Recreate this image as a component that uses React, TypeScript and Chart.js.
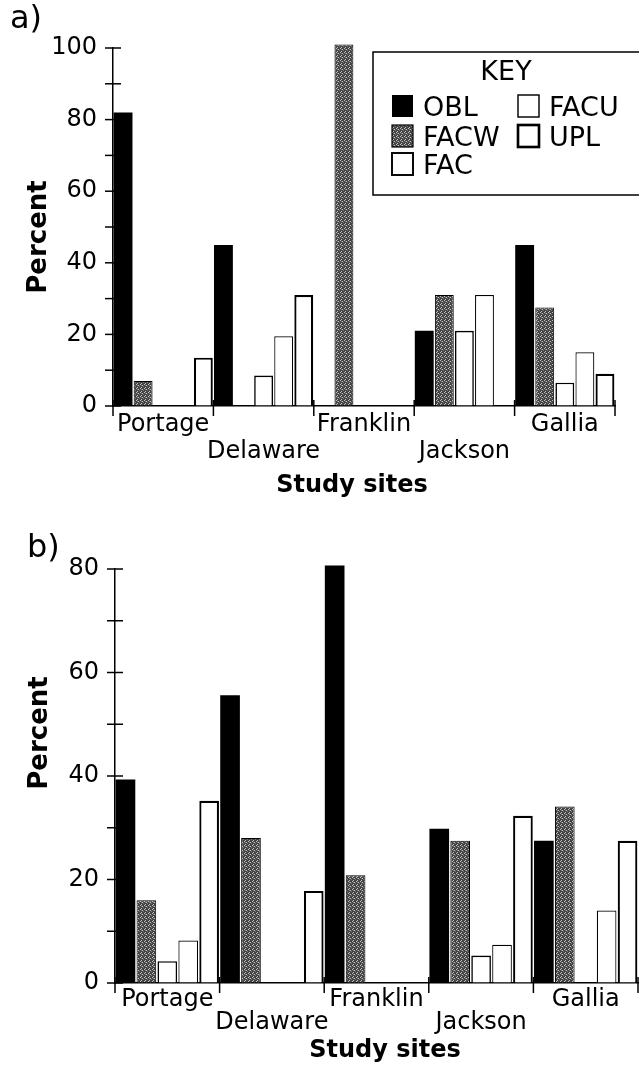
import React, { useEffect, useRef } from "react";
import { Chart, registerables } from "chart.js";

Chart.register(...registerables);

// ---------- data ----------
const sites = ["Portage", "Delaware", "Franklin", "Jackson", "Gallia"];
// staggered two-row labels (second-row names get an empty first line)
const siteRows = [0, 1, 0, 1, 0];
const classes = ["OBL", "FACW", "FAC", "FACU", "UPL"];

// panel a)
const aOBL = [82, 45, 0, 21, 45];
const aFACW = [7, 0, 101, 31, 27.5];
const aFAC = [0, 8.5, 0, 21, 6.5];
const aFACU = [0, 19.5, 0, 31, 15];
const aUPL = [13.5, 31, 0, 0, 9];
const aTickLabels = [0, 20, 40, 60, 80, 100];

// panel b)
const bOBL = [39.3, 55.6, 80.7, 29.8, 27.5];
const bFACW = [16, 28, 20.8, 27.5, 34.1];
const bFAC = [4.2, 0, 0, 5.3, 0];
const bFACU = [8.2, 0, 0, 7.4, 14];
const bUPL = [35.2, 17.8, 0, 32.3, 27.5];
const bTickLabels = [0, 20, 40, 60, 80];

const FONT = "DejaVu Sans";

function makePattern(): CanvasPattern | string {
  const c = document.createElement("canvas");
  c.width = 4;
  c.height = 4;
  const g = c.getContext("2d");
  if (!g) return "#555555";
  g.fillStyle = "#434343";
  g.fillRect(0, 0, 4, 4);
  g.fillStyle = "#c4c4c4";
  [
    [0, 0],
    [2, 1],
    [1, 3],
  ].forEach(([x, y]) => g.fillRect(x, y, 1, 1));
  g.fillStyle = "#7a7a7a";
  [
    [3, 2],
    [1, 1],
  ].forEach(([x, y]) => g.fillRect(x, y, 1, 1));
  return g.createPattern(c, "repeat") || "#555555";
}

const decorPlugin = {
  id: "decor",
  afterDraw(chart: any, _args: any, opts: any) {
    const ctx = chart.ctx as CanvasRenderingContext2D;
    const xs = chart.scales.x;
    const ys = chart.scales.y;
    ctx.save();
    ctx.strokeStyle = "#000";
    ctx.lineWidth = 1.5;
    // y tick marks crossing the axis
    ys.ticks.forEach((t: any) => {
      const py = ys.getPixelForValue(t.value);
      ctx.beginPath();
      ctx.moveTo(xs.left - 8, py);
      ctx.lineTo(xs.left + 8, py);
      ctx.stroke();
    });
    // x category boundary marks
    const n = xs.ticks.length;
    for (let i = 0; i <= n; i++) {
      const px = xs.getPixelForValue(i - 0.5);
      ctx.beginPath();
      ctx.moveTo(px, ys.bottom - 6);
      ctx.lineTo(px, ys.bottom + 10);
      ctx.stroke();
    }
    ctx.fillStyle = "#000";
    // panel letter
    ctx.font = `32px "${FONT}"`;
    ctx.textAlign = "left";
    ctx.textBaseline = "alphabetic";
    ctx.fillText(opts.panel, opts.panelX, opts.panelY);
    // axis titles
    ctx.font = `bold 24px "${FONT}"`;
    ctx.textAlign = "center";
    ctx.textBaseline = "middle";
    ctx.fillText(opts.xTitle, opts.xTitleX, opts.xTitleY);
    ctx.save();
    ctx.translate(opts.yTitleX, opts.yTitleY);
    ctx.rotate(-Math.PI / 2);
    ctx.font = `bold 26px "${FONT}"`;
    ctx.fillText(opts.yTitle, 0, 0);
    ctx.restore();
    ctx.restore();
  },
};

const keyPlugin = {
  id: "keybox",
  afterDraw(chart: any, _args: any, opts: any) {
    if (!opts || !opts.show) return;
    const ctx = chart.ctx as CanvasRenderingContext2D;
    ctx.save();
    ctx.strokeStyle = "#000";
    ctx.lineWidth = 1.5;
    ctx.strokeRect(opts.left, opts.top, opts.width, opts.height);
    ctx.fillStyle = "#000";
    ctx.font = `27px "${FONT}"`;
    ctx.textAlign = "center";
    ctx.textBaseline = "alphabetic";
    ctx.fillText(opts.title, opts.titleX, opts.titleY);
    ctx.textAlign = "left";
    const ds = chart.data.datasets;
    ds.forEach((d: any, i: number) => {
      const col = Math.floor(i / 3);
      const row = i % 3;
      const sx = opts.colX[col];
      const sy = opts.rowY[row];
      const bw = d.borderWidth || 0;
      ctx.fillStyle = d.backgroundColor;
      ctx.fillRect(sx, sy, 21, 22);
      if (bw > 0) {
        ctx.lineWidth = Math.max(bw * 1.2, 1);
        ctx.strokeStyle = "#000";
        ctx.strokeRect(sx, sy, 21, 22);
      }
      ctx.fillStyle = "#000";
      ctx.fillText(d.label, sx + 31, sy + 21);
    });
    ctx.restore();
  },
};

function buildDatasets(values: number[][], pattern: CanvasPattern | string) {
  const fills = ["#000000", pattern, "#ffffff", "#ffffff", "#ffffff"];
  const widths = [0, 1, 1.6, 1.2, 2.2];
  return classes.map((c, i) => ({
    label: c,
    data: values[i],
    backgroundColor: fills[i],
    borderColor: "#000000",
    borderWidth: widths[i],
    borderSkipped: "start" as const,
    categoryPercentage: 1,
    barPercentage: 0.94,
    clip: false as any,
  }));
}

function makeConfig(p: any, pattern: CanvasPattern | string) {
  const labels = sites.map((s, i) => (siteRows[i] === 1 ? ["", s] : [s]));
  return {
    type: "bar" as const,
    data: { labels, datasets: buildDatasets(p.values, pattern) },
    plugins: [decorPlugin, keyPlugin],
    options: {
      animation: false as const,
      responsive: false,
      devicePixelRatio: 1,
      layout: { padding: { top: p.padTop, right: p.padRight, left: 0, bottom: 0 } },
      plugins: {
        legend: { display: false },
        tooltip: { enabled: false },
        decor: p.decor,
        keybox: p.key,
      },
      scales: {
        x: {
          type: "category" as const,
          offset: true,
          grid: { display: true, drawOnChartArea: false, drawTicks: false },
          border: { display: true, color: "#000", width: 1.5 },
          ticks: {
            autoSkip: false,
            maxRotation: 0,
            minRotation: 0,
            color: "#000",
            padding: p.xPad,
            font: { family: FONT, size: 24, lineHeight: p.xLine },
          },
          afterFit: (s: any) => {
            s.height = p.xHeight;
          },
        },
        y: {
          min: 0,
          max: p.max,
          grid: { display: true, drawOnChartArea: false, drawTicks: false },
          border: { display: true, color: "#000", width: 1.5 },
          ticks: {
            stepSize: 10,
            color: "#000",
            padding: 16,
            font: { family: FONT, size: 24 },
            callback: (v: any) => (p.tickLabels.includes(Number(v)) ? String(v) : ""),
          },
          afterFit: (s: any) => {
            s.width = p.yWidth;
          },
        },
      },
    },
  };
}

const panelA = {
  values: [aOBL, aFACW, aFAC, aFACU, aUPL],
  tickLabels: aTickLabels,
  max: 100,
  padTop: 48,
  padRight: 24,
  yWidth: 113,
  xHeight: 99,
  xPad: 5,
  xLine: 27 / 24,
  decor: {
    panel: "a)",
    panelX: 10,
    panelY: 28,
    xTitle: "Study sites",
    xTitleX: 352,
    xTitleY: 486,
    yTitle: "Percent",
    yTitleX: 39,
    yTitleY: 237,
  },
  key: {
    show: true,
    left: 373,
    top: 52,
    width: 280,
    height: 143,
    title: "KEY",
    titleX: 506,
    titleY: 80,
    colX: [392, 518],
    rowY: [95, 125, 153],
  },
};

const panelB = {
  values: [bOBL, bFACW, bFAC, bFACU, bUPL],
  tickLabels: bTickLabels,
  max: 80,
  padTop: 64,
  padRight: 1,
  yWidth: 115,
  xHeight: 91,
  xPad: 5,
  xLine: 23 / 24,
  decor: {
    panel: "b)",
    panelX: 27,
    panelY: 52,
    xTitle: "Study sites",
    xTitleX: 385,
    xTitleY: 546,
    yTitle: "Percent",
    yTitleX: 40,
    yTitleY: 228,
  },
  key: { show: false },
};

function Panel({ p, top, height }: { p: any; top: number; height: number }) {
  const ref = useRef<HTMLCanvasElement>(null);
  useEffect(() => {
    if (!ref.current) return;
    const chart = new Chart(ref.current, makeConfig(p, makePattern()) as any);
    return () => chart.destroy();
  }, [p]);
  return (
    <canvas
      ref={ref}
      width={639}
      height={height}
      style={{ position: "absolute", left: 0, top, width: 639, height, display: "block" }}
    />
  );
}

export default function App() {
  return (
    <div
      style={{
        position: "absolute",
        left: 0,
        top: 0,
        width: 639,
        height: 1074,
        background: "#fff",
        overflow: "hidden",
      }}
    >
      <Panel p={panelA} top={0} height={505} />
      <Panel p={panelB} top={505} height={569} />
    </div>
  );
}
